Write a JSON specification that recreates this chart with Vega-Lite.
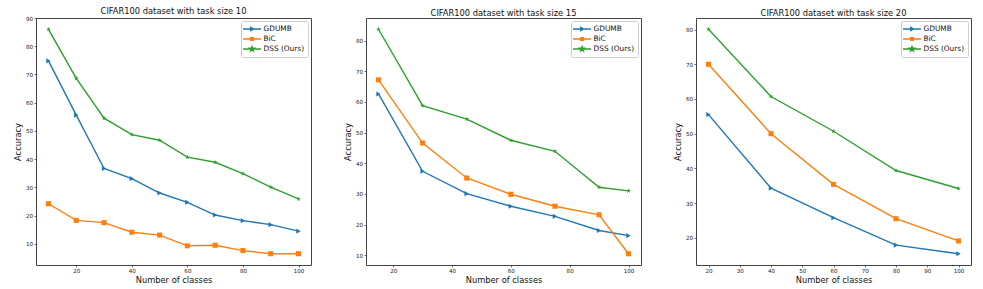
{
  "$schema": "https://vega.github.io/schema/vega-lite/v6.json",
  "padding": {"left": 12, "top": 6, "right": 5, "bottom": 2},
  "spacing": 55,
  "bounds": "flush",
  "config": {
    "font": "DejaVu Sans",
    "view": {"stroke": "#444", "strokeWidth": 1},
    "axis": {
      "grid": false,
      "domain": false,
      "tickColor": "#333",
      "tickSize": 2,
      "tickWidth": 0.7,
      "labelFontSize": 5.6,
      "labelColor": "#222",
      "labelPadding": 1.5,
      "titleFontSize": 8.3,
      "titleFontWeight": "normal",
      "titleColor": "#111"
    },
    "axisX": {"titlePadding": 1},
    "axisY": {"titlePadding": 3},
    "title": {"fontSize": 8.3, "fontWeight": "normal", "color": "#111", "offset": 1},
    "legend": {
      "orient": "top-right",
      "offset": 3,
      "title": null,
      "fillColor": "white",
      "strokeColor": "#ccc",
      "cornerRadius": 2,
      "padding": 3,
      "labelFontSize": 7.4,
      "labelColor": "#111",
      "symbolSize": 64,
      "symbolStrokeWidth": 1.4,
      "rowPadding": 0,
      "labelOffset": 9.5
    }
  },
  "resolve": {"legend": {"color": "independent"}},
  "datasets": {
    "d": [
      {"panel": "10", "classes": 10, "method": "GDUMB", "acc": 74.8},
      {"panel": "10", "classes": 20, "method": "GDUMB", "acc": 55.6},
      {"panel": "10", "classes": 30, "method": "GDUMB", "acc": 36.7},
      {"panel": "10", "classes": 40, "method": "GDUMB", "acc": 33.1},
      {"panel": "10", "classes": 50, "method": "GDUMB", "acc": 28.0},
      {"panel": "10", "classes": 60, "method": "GDUMB", "acc": 24.7},
      {"panel": "10", "classes": 70, "method": "GDUMB", "acc": 20.2},
      {"panel": "10", "classes": 80, "method": "GDUMB", "acc": 18.2},
      {"panel": "10", "classes": 90, "method": "GDUMB", "acc": 16.8},
      {"panel": "10", "classes": 100, "method": "GDUMB", "acc": 14.5},
      {"panel": "10", "classes": 10, "method": "BiC", "acc": 24.2},
      {"panel": "10", "classes": 20, "method": "BiC", "acc": 18.3},
      {"panel": "10", "classes": 30, "method": "BiC", "acc": 17.5},
      {"panel": "10", "classes": 40, "method": "BiC", "acc": 14.1},
      {"panel": "10", "classes": 50, "method": "BiC", "acc": 13.1},
      {"panel": "10", "classes": 60, "method": "BiC", "acc": 9.3},
      {"panel": "10", "classes": 70, "method": "BiC", "acc": 9.5},
      {"panel": "10", "classes": 80, "method": "BiC", "acc": 7.6},
      {"panel": "10", "classes": 90, "method": "BiC", "acc": 6.5},
      {"panel": "10", "classes": 100, "method": "BiC", "acc": 6.5},
      {"panel": "10", "classes": 10, "method": "DSS (Ours)", "acc": 86.0},
      {"panel": "10", "classes": 20, "method": "DSS (Ours)", "acc": 68.6},
      {"panel": "10", "classes": 30, "method": "DSS (Ours)", "acc": 54.5},
      {"panel": "10", "classes": 40, "method": "DSS (Ours)", "acc": 48.7},
      {"panel": "10", "classes": 50, "method": "DSS (Ours)", "acc": 46.7},
      {"panel": "10", "classes": 60, "method": "DSS (Ours)", "acc": 40.7},
      {"panel": "10", "classes": 70, "method": "DSS (Ours)", "acc": 38.9},
      {"panel": "10", "classes": 80, "method": "DSS (Ours)", "acc": 34.9},
      {"panel": "10", "classes": 90, "method": "DSS (Ours)", "acc": 30.1},
      {"panel": "10", "classes": 100, "method": "DSS (Ours)", "acc": 25.9},

      {"panel": "15", "classes": 15, "method": "GDUMB", "acc": 62.6},
      {"panel": "15", "classes": 30, "method": "GDUMB", "acc": 37.4},
      {"panel": "15", "classes": 45, "method": "GDUMB", "acc": 30.1},
      {"panel": "15", "classes": 60, "method": "GDUMB", "acc": 26.0},
      {"panel": "15", "classes": 75, "method": "GDUMB", "acc": 22.7},
      {"panel": "15", "classes": 90, "method": "GDUMB", "acc": 18.1},
      {"panel": "15", "classes": 100, "method": "GDUMB", "acc": 16.4},
      {"panel": "15", "classes": 15, "method": "BiC", "acc": 67.2},
      {"panel": "15", "classes": 30, "method": "BiC", "acc": 46.6},
      {"panel": "15", "classes": 45, "method": "BiC", "acc": 35.2},
      {"panel": "15", "classes": 60, "method": "BiC", "acc": 29.9},
      {"panel": "15", "classes": 75, "method": "BiC", "acc": 26.0},
      {"panel": "15", "classes": 90, "method": "BiC", "acc": 23.2},
      {"panel": "15", "classes": 100, "method": "BiC", "acc": 10.5},
      {"panel": "15", "classes": 15, "method": "DSS (Ours)", "acc": 83.7},
      {"panel": "15", "classes": 30, "method": "DSS (Ours)", "acc": 58.8},
      {"panel": "15", "classes": 45, "method": "DSS (Ours)", "acc": 54.4},
      {"panel": "15", "classes": 60, "method": "DSS (Ours)", "acc": 47.5},
      {"panel": "15", "classes": 75, "method": "DSS (Ours)", "acc": 43.9},
      {"panel": "15", "classes": 90, "method": "DSS (Ours)", "acc": 32.2},
      {"panel": "15", "classes": 100, "method": "DSS (Ours)", "acc": 31.0},

      {"panel": "20", "classes": 20, "method": "GDUMB", "acc": 55.5},
      {"panel": "20", "classes": 40, "method": "GDUMB", "acc": 34.3},
      {"panel": "20", "classes": 60, "method": "GDUMB", "acc": 25.8},
      {"panel": "20", "classes": 80, "method": "GDUMB", "acc": 17.9},
      {"panel": "20", "classes": 100, "method": "GDUMB", "acc": 15.4},
      {"panel": "20", "classes": 20, "method": "BiC", "acc": 70.0},
      {"panel": "20", "classes": 40, "method": "BiC", "acc": 50.0},
      {"panel": "20", "classes": 60, "method": "BiC", "acc": 35.4},
      {"panel": "20", "classes": 80, "method": "BiC", "acc": 25.5},
      {"panel": "20", "classes": 100, "method": "BiC", "acc": 19.1},
      {"panel": "20", "classes": 20, "method": "DSS (Ours)", "acc": 80.1},
      {"panel": "20", "classes": 40, "method": "DSS (Ours)", "acc": 60.7},
      {"panel": "20", "classes": 60, "method": "DSS (Ours)", "acc": 50.7},
      {"panel": "20", "classes": 80, "method": "DSS (Ours)", "acc": 39.4},
      {"panel": "20", "classes": 100, "method": "DSS (Ours)", "acc": 34.2}
    ]
  },
  "hconcat": [
    {
      "width": 275, "height": 247,
      "title": "CIFAR100 dataset with task size 10",
      "data": {"name": "d"},
      "transform": [{"filter": "datum.panel == '10'"}],
      "encoding": {
        "x": {"field": "classes", "type": "quantitative", "title": "Number of classes",
              "scale": {"domain": [5.5, 104.5], "nice": false, "zero": false},
              "axis": {"values": [20, 40, 60, 80, 100]}},
        "y": {"field": "acc", "type": "quantitative", "title": "Accuracy",
              "scale": {"domain": [2.5, 90], "nice": false, "zero": false},
              "axis": {"values": [10, 20, 30, 40, 50, 60, 70, 80, 90]}},
        "color": {"field": "method", "type": "nominal",
                  "scale": {"domain": ["GDUMB", "BiC", "DSS (Ours)"], "range": ["#1f77b4", "#ff7f0e", "#2ca02c"]},
                  "legend": {"encode": {"symbols": {"update": {
                    "shape": {"signal": "datum.value === 'GDUMB' ? 'M-1.5,0H3M0.45,-0.4L1.1,0L0.45,0.4Z' : datum.value === 'BiC' ? 'M-1.5,0H3M0.4,-0.35H1.1V0.35H0.4Z' : 'M-1.5,0H3M0.75,-0.55L0.873,-0.17L1.273,-0.17L0.95,0.065L1.073,0.445L0.75,0.21L0.427,0.445L0.55,0.065L0.227,-0.17L0.627,-0.17Z'"},
                    "fill": {"signal": "datum.value === 'GDUMB' ? '#1f77b4' : datum.value === 'BiC' ? '#ff7f0e' : '#2ca02c'"},
                    "stroke": {"signal": "datum.value === 'GDUMB' ? '#1f77b4' : datum.value === 'BiC' ? '#ff7f0e' : '#2ca02c'"},
                    "opacity": {"value": 1}
                  }}}}}
      },
      "layer": [
        {"mark": {"type": "line", "strokeWidth": 1.4}},
        {"mark": {"type": "point", "filled": true, "opacity": 1, "size": 26},
         "encoding": {"shape": {"field": "method", "type": "nominal", "legend": null,
           "scale": {"domain": ["GDUMB", "BiC", "DSS (Ours)"], "range": ["triangle-right", "square", "M0,-1L0.225,-0.309L0.951,-0.309L0.363,0.118L0.588,0.809L0,0.382L-0.588,0.809L-0.363,0.118L-0.951,-0.309L-0.225,-0.309Z"]}}}}
      ]
    },
    {
      "width": 275, "height": 247,
      "title": "CIFAR100 dataset with task size 15",
      "data": {"name": "d"},
      "transform": [{"filter": "datum.panel == '15'"}],
      "encoding": {
        "x": {"field": "classes", "type": "quantitative", "title": "Number of classes",
              "scale": {"domain": [10.75, 104.25], "nice": false, "zero": false},
              "axis": {"values": [20, 40, 60, 80, 100]}},
        "y": {"field": "acc", "type": "quantitative", "title": "Accuracy",
              "scale": {"domain": [6.84, 87.36], "nice": false, "zero": false},
              "axis": {"values": [10, 20, 30, 40, 50, 60, 70, 80]}},
        "color": {"field": "method", "type": "nominal",
                  "scale": {"domain": ["GDUMB", "BiC", "DSS (Ours)"], "range": ["#1f77b4", "#ff7f0e", "#2ca02c"]},
                  "legend": {"encode": {"symbols": {"update": {
                    "shape": {"signal": "datum.value === 'GDUMB' ? 'M-1.5,0H3M0.45,-0.4L1.1,0L0.45,0.4Z' : datum.value === 'BiC' ? 'M-1.5,0H3M0.4,-0.35H1.1V0.35H0.4Z' : 'M-1.5,0H3M0.75,-0.55L0.873,-0.17L1.273,-0.17L0.95,0.065L1.073,0.445L0.75,0.21L0.427,0.445L0.55,0.065L0.227,-0.17L0.627,-0.17Z'"},
                    "fill": {"signal": "datum.value === 'GDUMB' ? '#1f77b4' : datum.value === 'BiC' ? '#ff7f0e' : '#2ca02c'"},
                    "stroke": {"signal": "datum.value === 'GDUMB' ? '#1f77b4' : datum.value === 'BiC' ? '#ff7f0e' : '#2ca02c'"},
                    "opacity": {"value": 1}
                  }}}}}
      },
      "layer": [
        {"mark": {"type": "line", "strokeWidth": 1.4}},
        {"mark": {"type": "point", "filled": true, "opacity": 1, "size": 26},
         "encoding": {"shape": {"field": "method", "type": "nominal", "legend": null,
           "scale": {"domain": ["GDUMB", "BiC", "DSS (Ours)"], "range": ["triangle-right", "square", "M0,-1L0.225,-0.309L0.951,-0.309L0.363,0.118L0.588,0.809L0,0.382L-0.588,0.809L-0.363,0.118L-0.951,-0.309L-0.225,-0.309Z"]}}}}
      ]
    },
    {
      "width": 275, "height": 247,
      "title": "CIFAR100 dataset with task size 20",
      "data": {"name": "d"},
      "transform": [{"filter": "datum.panel == '20'"}],
      "encoding": {
        "x": {"field": "classes", "type": "quantitative", "title": "Number of classes",
              "scale": {"domain": [16, 104], "nice": false, "zero": false},
              "axis": {"values": [20, 30, 40, 50, 60, 70, 80, 90, 100]}},
        "y": {"field": "acc", "type": "quantitative", "title": "Accuracy",
              "scale": {"domain": [12.17, 83.33], "nice": false, "zero": false},
              "axis": {"values": [20, 30, 40, 50, 60, 70, 80]}},
        "color": {"field": "method", "type": "nominal",
                  "scale": {"domain": ["GDUMB", "BiC", "DSS (Ours)"], "range": ["#1f77b4", "#ff7f0e", "#2ca02c"]},
                  "legend": {"encode": {"symbols": {"update": {
                    "shape": {"signal": "datum.value === 'GDUMB' ? 'M-1.5,0H3M0.45,-0.4L1.1,0L0.45,0.4Z' : datum.value === 'BiC' ? 'M-1.5,0H3M0.4,-0.35H1.1V0.35H0.4Z' : 'M-1.5,0H3M0.75,-0.55L0.873,-0.17L1.273,-0.17L0.95,0.065L1.073,0.445L0.75,0.21L0.427,0.445L0.55,0.065L0.227,-0.17L0.627,-0.17Z'"},
                    "fill": {"signal": "datum.value === 'GDUMB' ? '#1f77b4' : datum.value === 'BiC' ? '#ff7f0e' : '#2ca02c'"},
                    "stroke": {"signal": "datum.value === 'GDUMB' ? '#1f77b4' : datum.value === 'BiC' ? '#ff7f0e' : '#2ca02c'"},
                    "opacity": {"value": 1}
                  }}}}}
      },
      "layer": [
        {"mark": {"type": "line", "strokeWidth": 1.4}},
        {"mark": {"type": "point", "filled": true, "opacity": 1, "size": 26},
         "encoding": {"shape": {"field": "method", "type": "nominal", "legend": null,
           "scale": {"domain": ["GDUMB", "BiC", "DSS (Ours)"], "range": ["triangle-right", "square", "M0,-1L0.225,-0.309L0.951,-0.309L0.363,0.118L0.588,0.809L0,0.382L-0.588,0.809L-0.363,0.118L-0.951,-0.309L-0.225,-0.309Z"]}}}}
      ]
    }
  ]
}
